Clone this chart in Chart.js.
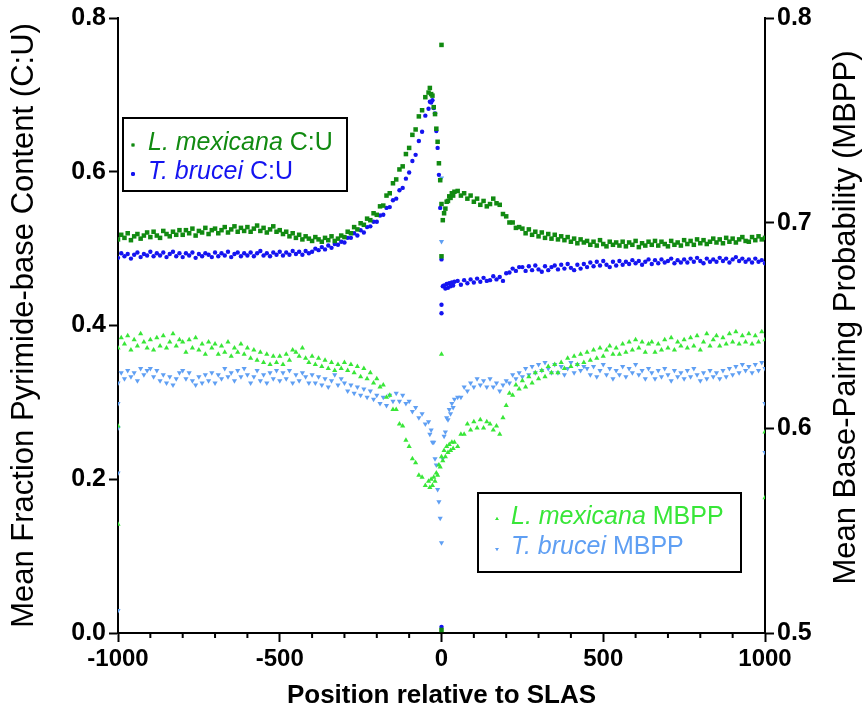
<!DOCTYPE html>
<html>
<head>
<meta charset="utf-8">
<script src="https://cdn.jsdelivr.net/npm/chart.js@4.4.1/dist/chart.umd.min.js"></script>
<style>
  html, body { margin: 0; padding: 0; background: #fff; }
</style>
</head>
<body>
<canvas id="slasChart" width="863" height="713"></canvas>
<script>
// positions relative to SLAS (finer steps around 0)
const positions = [
  -1000, -990, -980, -970, -960, -950, -940, -930, -920, -910,
  -900, -890, -880, -870, -860, -850, -840, -830, -820, -810,
  -800, -790, -780, -770, -760, -750, -740, -730, -720, -710,
  -700, -690, -680, -670, -660, -650, -640, -630, -620, -610,
  -600, -590, -580, -570, -560, -550, -540, -530, -520, -510,
  -500, -490, -480, -470, -460, -450, -440, -430, -420, -410,
  -400, -390, -380, -370, -360, -350, -340, -330, -320, -310,
  -300, -290, -280, -270, -260, -250, -240, -230, -220, -210,
  -200, -190, -180, -170, -160, -150, -140, -130, -120, -110,
  -100, -90, -80, -70, -60, -50,
  -40, -36, -32, -28, -24, -20, -16, -12, -8, -4, 0, 4, 8, 12, 16, 20, 24, 28, 32, 36, 40,
  50, 60, 70, 80, 90, 100, 110, 120, 130, 140,
  150, 160, 170, 180, 190, 200, 210, 220, 230, 240,
  250, 260, 270, 280, 290, 300, 310, 320, 330, 340,
  350, 360, 370, 380, 390, 400, 410, 420, 430, 440,
  450, 460, 470, 480, 490, 500, 510, 520, 530, 540,
  550, 560, 570, 580, 590, 600, 610, 620, 630, 640,
  650, 660, 670, 680, 690, 700, 710, 720, 730, 740,
  750, 760, 770, 780, 790, 800, 810, 820, 830, 840,
  850, 860, 870, 880, 890, 900, 910, 920, 930, 940,
  950, 960, 970, 980, 990, 1000
];

// C:U content (left axis)
const lmexCU = [
  0.512, 0.518, 0.514, 0.520, 0.511, 0.516, 0.519, 0.513, 0.517, 0.521,
  0.515, 0.522, 0.517, 0.514, 0.523, 0.519, 0.516, 0.522, 0.518, 0.524,
  0.518, 0.524, 0.520, 0.526, 0.517, 0.523, 0.521, 0.527, 0.519, 0.524,
  0.526, 0.520, 0.524, 0.528, 0.521, 0.525, 0.529, 0.522, 0.527, 0.523,
  0.528, 0.522, 0.526, 0.530, 0.523, 0.527, 0.521, 0.525, 0.529, 0.522,
  0.524, 0.519, 0.522, 0.516, 0.520, 0.514, 0.518, 0.512, 0.516, 0.513,
  0.510, 0.515, 0.512, 0.509, 0.514, 0.511, 0.516, 0.510, 0.513, 0.517,
  0.515, 0.522, 0.520, 0.528, 0.525, 0.533, 0.531, 0.539, 0.537, 0.546,
  0.544, 0.555, 0.556, 0.569, 0.572, 0.585, 0.590, 0.603, 0.607, 0.623,
  0.631, 0.648, 0.655, 0.672, 0.680, 0.697,
  0.703, 0.709, 0.701, 0.699, 0.684, 0.675, 0.656, 0.639, 0.611, 0.589, 0.558, 0.537, 0.546, 0.552, 0.561, 0.562, 0.568, 0.566, 0.572, 0.569, 0.574,
  0.575, 0.569, 0.572, 0.565, 0.569, 0.561, 0.565, 0.557, 0.562, 0.555,
  0.558, 0.565, 0.559, 0.557, 0.545, 0.542, 0.534, 0.534, 0.527, 0.528,
  0.526, 0.520, 0.525, 0.518, 0.522, 0.516, 0.521, 0.514, 0.519, 0.513,
  0.518, 0.512, 0.516, 0.511, 0.515, 0.509, 0.513, 0.507, 0.512, 0.508,
  0.510, 0.505, 0.509, 0.504, 0.511, 0.506, 0.503, 0.509, 0.505, 0.508,
  0.504, 0.509, 0.503, 0.508, 0.505, 0.510, 0.502, 0.507, 0.504, 0.509,
  0.505, 0.510, 0.504, 0.509, 0.506, 0.503, 0.510, 0.505, 0.508, 0.504,
  0.511, 0.506, 0.510, 0.505, 0.512, 0.507, 0.511, 0.506, 0.509, 0.513,
  0.508, 0.512, 0.507, 0.514, 0.509, 0.513, 0.508, 0.512, 0.515, 0.510,
  0.509, 0.515, 0.511, 0.516, 0.512, 0.514
];

const tbruCU = [
  0.488, 0.494, 0.490, 0.493, 0.487, 0.492, 0.495, 0.489, 0.493, 0.491,
  0.496, 0.490, 0.494, 0.491, 0.495, 0.489, 0.493, 0.496, 0.490, 0.494,
  0.489, 0.494, 0.491, 0.495, 0.488, 0.493, 0.490, 0.494, 0.492, 0.489,
  0.495, 0.490, 0.494, 0.491, 0.496, 0.489, 0.493, 0.495, 0.490, 0.494,
  0.491, 0.495, 0.490, 0.494, 0.497, 0.491, 0.494, 0.490, 0.495, 0.492,
  0.496, 0.491, 0.495, 0.492, 0.497, 0.493, 0.496, 0.492, 0.497, 0.494,
  0.496, 0.500, 0.498, 0.502, 0.499, 0.504, 0.501, 0.506, 0.505, 0.509,
  0.508, 0.514, 0.514, 0.520, 0.517, 0.524, 0.521, 0.528, 0.529, 0.535,
  0.535, 0.543, 0.544, 0.553, 0.554, 0.563, 0.565, 0.576, 0.579, 0.591,
  0.599, 0.614, 0.622, 0.640, 0.652, 0.673,
  0.682, 0.691, 0.690, 0.693, 0.683, 0.676, 0.653, 0.631, 0.596, 0.553, 0.486, 0.451, 0.452, 0.448, 0.454, 0.449, 0.455, 0.451, 0.456, 0.452, 0.457,
  0.458, 0.453, 0.459, 0.455, 0.460, 0.456, 0.461, 0.457, 0.462, 0.458,
  0.459, 0.464, 0.460, 0.463, 0.458, 0.468, 0.469, 0.474, 0.471, 0.476,
  0.476, 0.471, 0.477, 0.472, 0.478, 0.473, 0.470, 0.477, 0.472, 0.476,
  0.478, 0.473, 0.479, 0.474, 0.480, 0.475, 0.472, 0.479, 0.474, 0.480,
  0.476, 0.482, 0.477, 0.483, 0.478, 0.484, 0.479, 0.476, 0.483, 0.478,
  0.484, 0.479, 0.483, 0.480, 0.485, 0.481, 0.484, 0.479, 0.483, 0.486,
  0.480, 0.485, 0.481, 0.486, 0.482, 0.484, 0.487, 0.481, 0.485, 0.482,
  0.486, 0.482, 0.487, 0.483, 0.488, 0.484, 0.481, 0.487, 0.483, 0.486,
  0.483, 0.488, 0.484, 0.487, 0.482, 0.486, 0.489, 0.484, 0.487, 0.483,
  0.486, 0.482, 0.487, 0.483, 0.485, 0.481
];

// MBPP (right axis)
const lmexMBPP = [
  0.639, 0.644, 0.641, 0.645, 0.638, 0.643, 0.640, 0.646, 0.642, 0.639,
  0.643, 0.638, 0.644, 0.640, 0.645, 0.639, 0.642, 0.646, 0.640, 0.643,
  0.642, 0.637, 0.643, 0.639, 0.644, 0.638, 0.641, 0.636, 0.642, 0.639,
  0.641, 0.636, 0.640, 0.637, 0.642, 0.635, 0.639, 0.637, 0.641, 0.636,
  0.639, 0.634, 0.638, 0.633, 0.637, 0.632, 0.636, 0.631, 0.635, 0.632,
  0.635, 0.631, 0.636, 0.633, 0.638, 0.637, 0.635, 0.639, 0.634, 0.632,
  0.635, 0.631, 0.634, 0.630, 0.633, 0.629, 0.632, 0.628, 0.631, 0.629,
  0.632, 0.628, 0.631, 0.627, 0.630, 0.625, 0.629, 0.624, 0.627, 0.622,
  0.624, 0.620, 0.621, 0.615, 0.616, 0.609, 0.609, 0.602, 0.601, 0.594,
  0.591, 0.585, 0.583, 0.577, 0.576, 0.572,
  0.574, 0.571, 0.575, 0.572, 0.576, 0.574, 0.578, 0.577, 0.582, 0.581, 0.586, 0.584, 0.589, 0.586, 0.591, 0.588, 0.592, 0.589, 0.593, 0.590, 0.593,
  0.591, 0.597, 0.597, 0.602, 0.599, 0.603, 0.600, 0.604, 0.600, 0.603,
  0.602, 0.599, 0.601, 0.597, 0.605, 0.611, 0.617, 0.616, 0.621, 0.619,
  0.623, 0.620, 0.625, 0.622, 0.627, 0.624, 0.628, 0.625, 0.630, 0.627,
  0.631, 0.627, 0.632, 0.629, 0.634, 0.630, 0.635, 0.631, 0.636, 0.632,
  0.637, 0.633, 0.638, 0.634, 0.639, 0.635, 0.638, 0.640, 0.636, 0.639,
  0.636, 0.641, 0.637, 0.642, 0.638, 0.643, 0.639, 0.642, 0.637, 0.641,
  0.642, 0.637, 0.641, 0.638, 0.643, 0.639, 0.644, 0.638, 0.642, 0.640,
  0.643, 0.639, 0.644, 0.640, 0.645, 0.638, 0.642, 0.646, 0.640, 0.643,
  0.645, 0.640, 0.644, 0.641, 0.646, 0.642, 0.647, 0.641, 0.645, 0.642,
  0.646, 0.641, 0.645, 0.642, 0.647, 0.643
];

const tbruMBPP = [
  0.622, 0.627, 0.624, 0.628, 0.625, 0.627, 0.623, 0.629, 0.626, 0.628,
  0.629, 0.625, 0.628, 0.623, 0.626, 0.622, 0.625, 0.621, 0.624, 0.627,
  0.628, 0.624, 0.627, 0.623, 0.621, 0.625, 0.622, 0.626, 0.623, 0.627,
  0.622, 0.626, 0.624, 0.629, 0.625, 0.627, 0.623, 0.628, 0.625, 0.629,
  0.626, 0.622, 0.625, 0.628, 0.623, 0.626, 0.622, 0.627, 0.624, 0.628,
  0.623, 0.627, 0.624, 0.628, 0.622, 0.626, 0.623, 0.627, 0.625, 0.622,
  0.626, 0.622, 0.625, 0.621, 0.624, 0.620, 0.623, 0.626, 0.621, 0.624,
  0.622, 0.618, 0.621, 0.617, 0.620, 0.616, 0.619, 0.615, 0.618, 0.614,
  0.616, 0.612, 0.615, 0.611, 0.616, 0.613, 0.617, 0.613, 0.616, 0.612,
  0.613, 0.608, 0.610, 0.605, 0.607, 0.602,
  0.603, 0.597, 0.599, 0.593, 0.593, 0.585, 0.582, 0.570, 0.564, 0.556, 0.544, 0.585, 0.596, 0.598, 0.605, 0.604, 0.609, 0.607, 0.612, 0.610, 0.614,
  0.615, 0.615, 0.620, 0.618, 0.622, 0.620, 0.624, 0.621, 0.623, 0.620,
  0.624, 0.620, 0.622, 0.618, 0.621, 0.623, 0.622, 0.626, 0.624, 0.627,
  0.625, 0.629, 0.626, 0.630, 0.627, 0.631, 0.628, 0.632, 0.629, 0.627,
  0.631, 0.627, 0.630, 0.626, 0.629, 0.632, 0.627, 0.631, 0.628, 0.630,
  0.629, 0.626, 0.630, 0.625, 0.628, 0.631, 0.626, 0.629, 0.624, 0.628,
  0.626, 0.630, 0.625, 0.629, 0.627, 0.631, 0.626, 0.628, 0.624, 0.629,
  0.627, 0.624, 0.628, 0.625, 0.629, 0.626, 0.623, 0.628, 0.625, 0.627,
  0.624, 0.628, 0.625, 0.629, 0.626, 0.623, 0.627, 0.624, 0.628, 0.625,
  0.627, 0.624, 0.628, 0.625, 0.629, 0.626, 0.630, 0.627, 0.631, 0.628,
  0.630, 0.627, 0.631, 0.628, 0.632, 0.629
];

// stray points at the SLAS and at the window edges
const lmexCUStrayX = [0, 0, 0];
const lmexCUStrayY = [0.765, 0.490, 0.004];
const tbruCUStrayX = [0, 0, 0];
const tbruCUStrayY = [0.427, 0.416, 0.008];
const lmexMBPPStrayX = [0, -1000, -1000, 1000, 1000];
const lmexMBPPStrayY = [0.636, 0.601, 0.553, 0.598, 0.566];
const tbruMBPPStrayX = [0, 0, -1000, -1000, -1000, -1000, 1000, 1000];
const tbruMBPPStrayY = [0.722, 0.691, 0.612, 0.600, 0.578, 0.511, 0.612, 0.588];

const xLabelled = [-1000, -500, 0, 500, 1000];

const FONT = "'Liberation Sans', Arial, Helvetica, sans-serif";
const colors = {
  lmexCU: "#118a11",
  tbruCU: "#1414f0",
  lmexMBPP: "#38e638",
  tbruMBPP: "#5f9ff3",
};

Chart.defaults.font.family = FONT;
Chart.defaults.color = "#000";

function toPoints(xs, ys) {
  return xs.map((x, i) => ({ x: x, y: ys[i] }));
}

// legends drawn as two framed boxes like the original figure
const legendBoxes = [
  {
    box: [123, 118, 347, 191],
    markX: 133,
    textX: 148,
    rows: [
      { y: 143, italic: "L. mexicana", plain: " C:U", color: colors.lmexCU, style: "rect", rot: 0 },
      { y: 172, italic: "T. brucei", plain: " C:U", color: colors.tbruCU, style: "circle", rot: 0 },
    ],
  },
  {
    box: [478, 493, 741, 572],
    markX: 497,
    textX: 511,
    rows: [
      { y: 517, italic: "L. mexicana", plain: " MBPP", color: colors.lmexMBPP, style: "triangle", rot: 0 },
      { y: 547, italic: "T. brucei", plain: " MBPP", color: colors.tbruMBPP, style: "triangle", rot: 180 },
    ],
  },
];

const decorPlugin = {
  id: "decor",
  afterDraw(chart) {
    const ctx = chart.ctx;
    const area = chart.chartArea;
    const xs = chart.scales.x;

    // minor ticks on the x axis
    ctx.save();
    ctx.strokeStyle = "#000";
    ctx.lineWidth = 2;
    ctx.beginPath();
    xs.ticks.forEach((t) => {
      if (xLabelled.indexOf(t.value) === -1) {
        const px = xs.getPixelForValue(t.value);
        ctx.moveTo(px, area.bottom);
        ctx.lineTo(px, area.bottom + 5);
      }
    });
    ctx.stroke();
    ctx.restore();

    // right axis title, reading bottom to top
    ctx.save();
    ctx.translate(846, (area.top + area.bottom) / 2 - 8);
    ctx.rotate(-Math.PI / 2);
    ctx.font = "31px " + FONT;
    ctx.fillStyle = "#000";
    ctx.textAlign = "center";
    ctx.textBaseline = "middle";
    ctx.fillText("Mean Base-Pairing Probability (MBPP)", 0, 0);
    ctx.restore();

    // legend boxes
    legendBoxes.forEach((lg) => {
      const b = lg.box;
      ctx.save();
      ctx.fillStyle = "#fff";
      ctx.fillRect(b[0], b[1], b[2] - b[0], b[3] - b[1]);
      ctx.strokeStyle = "#000";
      ctx.lineWidth = 2;
      ctx.strokeRect(b[0], b[1], b[2] - b[0], b[3] - b[1]);
      lg.rows.forEach((r) => {
        ctx.fillStyle = r.color;
        ctx.strokeStyle = r.color;
        Chart.helpers.drawPoint(ctx, { pointStyle: r.style, rotation: r.rot, radius: 2, borderWidth: 0 }, lg.markX, r.y + 2);
        ctx.fill();
        ctx.textBaseline = "middle";
        ctx.textAlign = "left";
        ctx.font = "italic 25px " + FONT;
        ctx.fillText(r.italic, lg.textX, r.y);
        const w = ctx.measureText(r.italic).width;
        ctx.font = "25px " + FONT;
        ctx.fillText(r.plain, lg.textX + w, r.y);
      });
      ctx.restore();
    });
  },
};

function makeSet(label, xs, ys, sx, sy, color, style, radius, rot, axis) {
  return {
    label: label,
    data: toPoints(xs, ys).concat(toPoints(sx, sy)),
    yAxisID: axis,
    showLine: false,
    pointStyle: style,
    pointRotation: rot,
    pointRadius: radius,
    pointHoverRadius: radius,
    pointBorderWidth: 0,
    backgroundColor: color,
    borderColor: color,
  };
}

new Chart(document.getElementById("slasChart"), {
  type: "scatter",
  data: {
    datasets: [
      makeSet("L. mexicana C:U", positions, lmexCU, lmexCUStrayX, lmexCUStrayY, colors.lmexCU, "rect", 3.2, 0, "y"),
      makeSet("T. brucei C:U", positions, tbruCU, tbruCUStrayX, tbruCUStrayY, colors.tbruCU, "circle", 2.2, 0, "y"),
      makeSet("L. mexicana MBPP", positions, lmexMBPP, lmexMBPPStrayX, lmexMBPPStrayY, colors.lmexMBPP, "triangle", 3, 0, "y1"),
      makeSet("T. brucei MBPP", positions, tbruMBPP, tbruMBPPStrayX, tbruMBPPStrayY, colors.tbruMBPP, "triangle", 3, 180, "y1"),
    ],
  },
  options: {
    responsive: false,
    animation: false,
    devicePixelRatio: 1,
    layout: { padding: { top: 18, left: 0, right: 0, bottom: 0 } },
    plugins: {
      legend: { display: false },
      tooltip: { enabled: false },
    },
    scales: {
      x: {
        type: "linear",
        position: "bottom",
        min: -1000,
        max: 1000,
        border: { display: true, color: "#000", width: 2 },
        grid: {
          drawOnChartArea: false,
          drawTicks: true,
          tickLength: 9,
          tickWidth: 2,
          tickColor: (c) => (c.tick && xLabelled.indexOf(c.tick.value) !== -1 ? "#000" : "rgba(0,0,0,0)"),
        },
        ticks: {
          stepSize: 100,
          autoSkip: false,
          maxRotation: 0,
          padding: 3,
          font: { size: 24, weight: "bold" },
          callback: (v) => (xLabelled.indexOf(v) !== -1 ? String(v) : ""),
        },
        title: {
          display: true,
          text: "Position relative to SLAS",
          font: { size: 26, weight: "bold" },
          padding: { top: 0, bottom: 2 },
        },
        afterFit: (s) => { s.height = 80; },
      },
      y: {
        position: "left",
        min: 0,
        max: 0.8,
        border: { display: true, color: "#000", width: 2 },
        grid: { drawOnChartArea: false, drawTicks: true, tickLength: 9, tickWidth: 2, tickColor: "#000" },
        ticks: {
          stepSize: 0.2,
          padding: 3,
          font: { size: 25, weight: "bold" },
          callback: (v) => v.toFixed(1),
        },
        title: {
          display: true,
          text: "Mean Fraction Pyrimide-base Content (C:U)",
          font: { size: 31 },
          padding: { top: 6, bottom: 0 },
        },
        afterFit: (s) => { s.width = 118; },
      },
      y1: {
        position: "right",
        min: 0.5,
        max: 0.8,
        border: { display: true, color: "#000", width: 2 },
        grid: { drawOnChartArea: false, drawTicks: true, tickLength: 9, tickWidth: 2, tickColor: "#000" },
        ticks: {
          stepSize: 0.1,
          padding: 3,
          font: { size: 25, weight: "bold" },
          callback: (v) => v.toFixed(1),
        },
        afterFit: (s) => { s.width = 98; },
      },
    },
  },
  plugins: [decorPlugin],
});
</script>
</body>
</html>
